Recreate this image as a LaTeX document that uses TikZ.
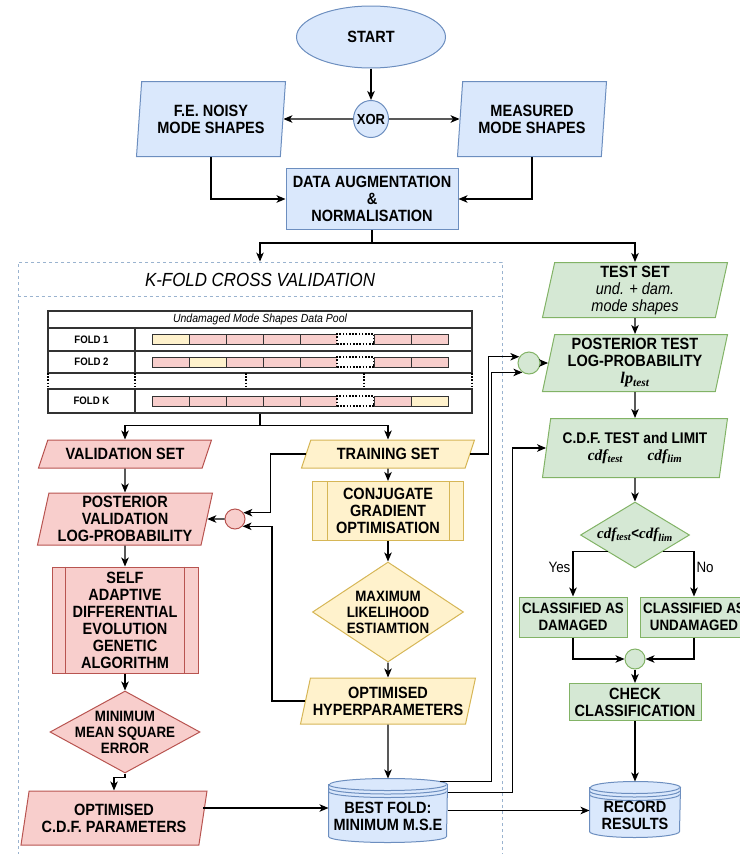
\documentclass[tikz,border=0pt]{standalone}
\usepackage{fontspec}
\setmainfont{Liberation Sans}[FakeStretch=0.89]
\setsansfont{Liberation Sans}[FakeStretch=0.89]
\newfontfamily\mathserif{Liberation Serif}
\usetikzlibrary{shapes.geometric,arrows.meta,backgrounds}

\definecolor{bluefill}{HTML}{DAE8FC}
\definecolor{bluedraw}{HTML}{6C8EBF}
\definecolor{redfill}{HTML}{F8CECC}
\definecolor{reddraw}{HTML}{B85450}
\definecolor{yellowfill}{HTML}{FFF2CC}
\definecolor{yellowdraw}{HTML}{D6B656}
\definecolor{greenfill}{HTML}{D5E8D4}
\definecolor{greendraw}{HTML}{82B366}
\definecolor{groupline}{HTML}{9AB3CF}
\definecolor{tablegray}{HTML}{333333}

\newcommand{\mvar}[2]{{\mathserif\bfseries\itshape #1\textsubscript{#2}}}

\begin{document}
\begin{tikzpicture}[x=1pt,y=-1pt,font=\bfseries\fontsize{16.3}{17}\selectfont,line width=1pt,
  bluebox/.style={draw=bluedraw,fill=bluefill},
  redbox/.style={draw=reddraw,fill=redfill},
  yellowbox/.style={draw=yellowdraw,fill=yellowfill},
  greenbox/.style={draw=greendraw,fill=greenfill},
  lean/.code={\pgfmathsetmacro\leanright{180-#1}\pgfkeysalso{trapezium left angle=#1,trapezium right angle=\leanright}},
  dataio/.style={trapezium,trapezium stretches body=true,lean=#1,align=center,inner xsep=1pt,inner ysep=2pt},
  dataio/.default=77,
  process/.style={rectangle,align=center,inner xsep=1pt,inner ysep=2pt},
  decision/.style={diamond,inner sep=0pt},
  diamondtext/.style={align=center,font=\bfseries\fontsize{15}{16}\selectfont},
  junction/.style={circle,inner sep=0pt},
  storebox/.style={rectangle,align=center,inner sep=0pt},
  storeline/.style={draw=bluedraw,line width=1pt},
  groupbox/.style={draw=groupline,line width=0.9pt,dash pattern=on 3pt off 3pt},
  poolcell/.style={draw=tablegray,line width=1.2pt,inner sep=0pt},
  trainseg/.style={draw=tablegray,fill=redfill,line width=1pt,minimum width=37pt,minimum height=10pt,inner sep=0pt},
  valseg/.style={trainseg,fill=yellowfill},
  gapseg/.style={trainseg,fill=white,draw=black,line width=1.6pt,dash pattern=on 1.6pt off 1.6pt},
  gapline/.style={draw=black,line width=1.6pt,dash pattern=on 1.6pt off 1.6pt},
  flow/.style={-{Stealth[length=9pt,width=7.5pt,inset=2.5pt]},line width=1.2pt},
  wire/.style={line width=1.2pt},
  edgetext/.style={font=\mdseries\fontsize{15}{16}\selectfont,inner sep=2pt}
]
\useasboundingbox (0,0) rectangle (739,854);

% k-fold container
\node[groupbox,minimum width=484pt,minimum height=608pt] (kfold) at (260,566) {};
\draw[groupbox] ([yshift=-35pt]kfold.north west) -- ([yshift=-35pt]kfold.north east);
\node[font=\mdseries\itshape\fontsize{19}{21}\selectfont] (kfoldtitle) at (260,280) {K-FOLD CROSS VALIDATION};

% input
\node[ellipse,bluebox,minimum width=149pt,minimum height=62pt] (start) at (371,37) {START};
\node[ellipse,bluebox,minimum width=35pt,minimum height=37pt,inner sep=0pt,
  label={[name=xortext,font=\bfseries\fontsize{14.6}{15}\selectfont]center:XOR}] (xor) at (371,119) {};
\node[dataio=81,bluebox,minimum width=149pt,minimum height=75pt] (fenoisy) at (211,119) {F.E. NOISY\\MODE SHAPES};
\node[dataio=81,bluebox,minimum width=149pt,minimum height=75pt] (measured) at (532,119) {MEASURED\\MODE SHAPES};
\node[process,bluebox,minimum width=172pt,minimum height=61pt] (augment) at (372,199) {DATA AUGMENTATION\\\&\\NORMALISATION};

% data pool
\node[poolcell,minimum width=424pt,minimum height=17pt,font=\mdseries\itshape\fontsize{11.8}{12}\selectfont] (pool) at (260,319.5) {Undamaged Mode Shapes Data Pool};
\foreach \r/\y/\h/\lab in {1/339.5/23pt/FOLD 1, 2/362/22pt/FOLD 2, k/401/24pt/FOLD K}{
  \node[poolcell,minimum width=424pt,minimum height=\h] (row\r) at (260,\y) {};
  \node[poolcell,minimum width=87pt,minimum height=\h,font=\bfseries\fontsize{10.8}{11}\selectfont] (name\r) at (91.5,\y) {\lab};
}
\foreach \r/\y/\hold in {1/339/1, 2/362/2, k/401/8}{
  \foreach \s in {1,...,8}{
    \ifnum\s=6 \def\segstyle{gapseg}\else\ifnum\s=\hold \def\segstyle{valseg}\else\def\segstyle{trainseg}\fi\fi
    \node[\segstyle] (seg\r\s) at ({133.5+37*\s},\y) {};
  }
}
\foreach \x in {48,135,246,364,472}
  \draw[gapline] (\x,373) -- (\x,389);

% validation branch
\node[dataio=59,redbox,minimum width=173pt,minimum height=28pt] (valset) at (125,454) {VALIDATION SET};
\node[dataio=77,redbox,minimum width=175pt,minimum height=52pt] (postval) at (125,519) {POSTERIOR\\VALIDATION\\LOG-PROBABILITY};
\node[junction,redbox,minimum size=20pt] (valjoin) at (235,519) {};
\node[process,redbox,minimum width=146pt,minimum height=106pt] (sade) at (125,620) {SELF\\ADAPTIVE\\DIFFERENTIAL\\EVOLUTION\\GENETIC\\ALGORITHM};
\node[decision,redbox,minimum width=150pt,minimum height=82pt,
  label={[name=minmsetext,diamondtext]center:MINIMUM\\MEAN SQUARE\\ERROR}] (minmse) at (125,732) {};
\node[dataio=76,redbox,minimum width=186pt,minimum height=54pt] (optcdf) at (114,818) {OPTIMISED\\C.D.F. PARAMETERS};

% training branch
\node[dataio=59,yellowbox,minimum width=173pt,minimum height=28pt] (trainset) at (388,454) {TRAINING SET};
\node[process,yellowbox,minimum width=151pt,minimum height=59pt] (conjgrad) at (388,511) {CONJUGATE\\GRADIENT\\OPTIMISATION};
\node[decision,yellowbox,minimum width=151pt,minimum height=100pt,
  label={[name=maxliktext,diamondtext]center:MAXIMUM\\LIKELIHOOD\\ESTIAMTION}] (maxlik) at (388,612) {};
\node[dataio=73,yellowbox,minimum width=175pt,minimum height=46pt] (opthyp) at (388,701) {OPTIMISED\\HYPERPARAMETERS};
\node[storebox,minimum width=118pt,minimum height=51pt] (bestfold) at (388,816.5) {BEST FOLD:\\MINIMUM M.S.E};

% test branch
\node[dataio=77,greenbox,minimum width=185pt,minimum height=55pt] (testset) at (635,290) {TEST SET\\{\mdseries\itshape und. + dam.}\\{\mdseries\itshape mode shapes}};
\node[dataio=77,greenbox,minimum width=185pt,minimum height=57pt] (posttest) at (635,363) {POSTERIOR TEST\\LOG-PROBABILITY\\\mvar{lp}{test}};
\node[junction,greenbox,minimum size=22pt] (testjoin) at (529,363) {};
\node[dataio=77,greenbox,minimum width=185pt,minimum height=59pt,font=\bfseries\fontsize{15.4}{17}\selectfont] (cdf) at (635,448) {C.D.F. TEST and LIMIT\\\mvar{cdf}{test}\hspace{1.6em}\mvar{cdf}{lim}};
\node[decision,greenbox,minimum width=109pt,minimum height=66pt,
  label={[name=decidetext,diamondtext]center:\mvar{cdf}{test}<\mvar{cdf}{lim}}] (decide) at (635,535) {};
\node[process,greenbox,minimum width=108pt,minimum height=40pt,font=\bfseries\fontsize{15}{16.5}\selectfont] (damaged) at (573,617) {CLASSIFIED AS\\DAMAGED};
\node[process,greenbox,minimum width=108pt,minimum height=40pt,font=\bfseries\fontsize{15}{16.5}\selectfont] (undamaged) at (694,617) {CLASSIFIED AS\\UNDAMAGED};
\node[junction,greenbox,minimum size=20pt] (classjoin) at (635,659) {};
\node[process,greenbox,minimum width=132pt,minimum height=37pt] (check) at (635,702) {CHECK\\CLASSIFICATION};
\node[storebox,minimum width=90pt,minimum height=43pt] (record) at (635,815.5) {RECORD\\RESULTS};

% process bars and data stores
\foreach \n/\d/\c in {sade/14pt/reddraw, conjgrad/15pt/yellowdraw}{
  \draw[\c] ([xshift=\d]\n.north west) -- ([xshift=\d]\n.south west);
  \draw[\c] ([xshift=-\d]\n.north east) -- ([xshift=-\d]\n.south east);
}
\begin{scope}[on background layer]
\foreach \n/\rx in {bestfold/59pt, record/45pt}{
  \path[storeline,fill=bluefill] ([yshift=6pt]\n.north west) -- ([yshift=6pt]\n.south west)
    arc[start angle=180,end angle=360,x radius=\rx,y radius=6pt] -- ([yshift=6pt]\n.north east)
    arc[start angle=0,end angle=180,x radius=\rx,y radius=6pt] -- cycle;
  \foreach \dy in {6pt,2.5pt,-1pt}
    \draw[storeline] ([yshift=\dy]\n.north west) arc[start angle=180,end angle=360,x radius=\rx,y radius=6pt];
}
\end{scope}

% connectors
\draw[flow] (start.south) -- (xor.north);
\draw[flow] (xor.west) -- (fenoisy.east);
\draw[flow] (xor.east) -- (measured.west);
\draw[flow] (fenoisy.south) |- (augment.west);
\draw[flow] (measured.south) |- (augment.east);
\draw[wire] (augment.south) -- ++(0,13) coordinate (split);
\draw[flow] (split) -| (kfold.north);
\draw[flow] (split) -| (testset.north);

\draw[wire] (rowk.south) -- ++(0,12) coordinate (poolsplit);
\draw[flow] (poolsplit) -| (valset.north);
\draw[flow] (poolsplit) -| (trainset.north);

\draw[flow] (valset.south) -- (postval.north);
\draw[flow] (trainset.west) -- ++(-35,0) |- (valjoin.37);
\draw[flow] (opthyp.west) -- ++(-33,0) |- (valjoin.-44);
\draw[flow] (valjoin.west) -- (postval.east);
\draw[flow] (postval.south) -- (sade.north);
\draw[flow] (sade.south) -- (minmse.north);
\draw[flow] (minmse.south) -- ++(0,4) -| (optcdf.north);
\draw[flow] ([yshift=10pt]optcdf.east) -- ([yshift=10pt]optcdf.east -| bestfold.west);

\draw[flow] (trainset.south) -- (conjgrad.north);
\draw[flow] (conjgrad.south) -- (maxlik.north);
\draw[flow] (maxlik.south) -- (opthyp.north);
\draw[flow] (opthyp.south) -- ([yshift=12pt]bestfold.north);

\draw[flow] (trainset.east) -- ++(18,0) |- (testjoin.147);
\draw[flow] ([xshift=-8pt,yshift=9pt]bestfold.north east) -- ++(52,0) |- (testjoin.-125);
\draw[flow] ([yshift=-2pt]bestfold.north east) -- ++(65,0) |- (cdf.west);
\draw[flow] ([yshift=6pt]bestfold.east) -- ([yshift=6pt]bestfold.east -| record.west);

\draw[flow] (testset.south) -- (posttest.north);
\draw[flow] (testjoin.east) -- (posttest.west);
\draw[flow] (posttest.south) -- (cdf.north);
\draw[flow] (cdf.south) -- (decide.north);
\draw[flow] (decide.south west) -| node[edgetext,pos=0.67,left] (yes) {Yes} (damaged.north);
\draw[flow] (decide.south east) -| node[edgetext,pos=0.67,right] (no) {No} (undamaged.north);
\draw[flow] (damaged.south) |- (classjoin.west);
\draw[flow] (undamaged.south) |- (classjoin.east);
\draw[flow] (classjoin.south) -- (check.north);
\draw[flow] (check.south) -- ([yshift=12pt]record.north);

\end{tikzpicture}
\end{document}
